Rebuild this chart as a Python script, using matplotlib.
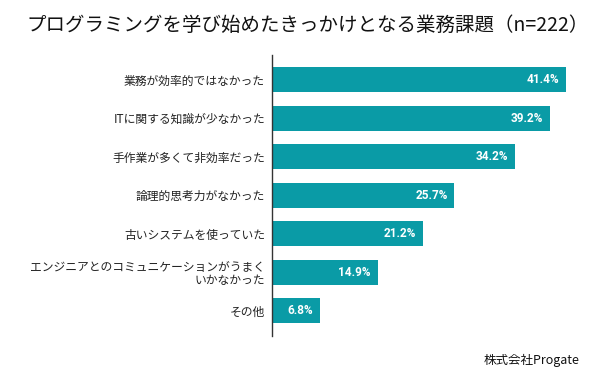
import matplotlib
matplotlib.use("Agg")
import matplotlib.pyplot as plt

plt.rcParams['font.family'] = ['Noto Sans CJK JP', 'DejaVu Sans']

categories = [
    "業務が効率的ではなかった",
    "ITに関する知識が少なかった",
    "手作業が多くて非効率だった",
    "論理的思考力がなかった",
    "古いシステムを使っていた",
    "エンジニアとのコミュニケーションがうまく\nいかなかった",
    "その他",
]
values = [41.4, 39.2, 34.2, 25.7, 21.2, 14.9, 6.8]
value_labels = ["41.4%", "39.2%", "34.2%", "25.7%", "21.2%", "14.9%", "6.8%"]
title = "プログラミングを学び始めたきっかけとなる業務課題（n=222）"
source = "株式会社Progate"

W, H = 615, 384
fig = plt.figure(figsize=(W / 100, H / 100), dpi=100)
x0, x1 = 272, 600
y0, y1 = 55, 336
ax = fig.add_axes([x0 / W, 1 - y1 / H, (x1 - x0) / W, (y1 - y0) / H])

color = "#0A9BA6"
pos = list(range(len(categories)))
ax.barh(pos, values, height=0.65, color=color)
ax.set_ylim(len(categories) - 1 + 0.66, -0.64)
ax.set_xlim(0, (x1 - x0) / 7.1)

for p, v, lab in zip(pos, values, value_labels):
    ax.annotate(lab, (v, p), xytext=(-5, 0), textcoords="offset points",
                ha="right", va="center", color="white", fontsize=8.5,
                fontweight="bold", family=["Roboto", "DejaVu Sans"])

ax.set_yticks(pos)
ax.set_yticklabels(categories, fontsize=8.5, color="#222222", linespacing=1.0)
ax.tick_params(axis="y", length=0, pad=5)
ax.set_xticks([])
for s in ["top", "right", "bottom"]:
    ax.spines[s].set_visible(False)
ax.spines["left"].set_color("#333333")
ax.spines["left"].set_linewidth(1.0)

fig.text(0.5, 1 - 25 / H, title, ha="center", va="center", fontsize=14, color="#111111")
fig.text(579 / W, 1 - 360 / H, source, ha="right", va="center", fontsize=9, color="#111111")

fig.savefig("out.png", dpi=100)
